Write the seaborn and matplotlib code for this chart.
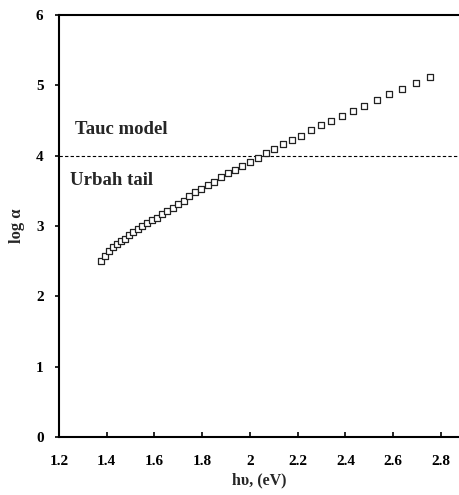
import matplotlib
matplotlib.use("Agg")
import matplotlib.pyplot as plt
import seaborn as sns
import pandas as pd

photon_energy = [1.378, 1.393, 1.409, 1.425, 1.442, 1.459, 1.476, 1.494, 1.512, 1.531,
                 1.550, 1.570, 1.590, 1.610, 1.632, 1.653, 1.676, 1.699, 1.722, 1.746,
                 1.771, 1.797, 1.824, 1.851, 1.879, 1.908, 1.938, 1.968, 2.000, 2.033,
                 2.067, 2.102, 2.138, 2.175, 2.214, 2.255, 2.296, 2.340, 2.385, 2.431,
                 2.480, 2.531, 2.583, 2.638, 2.696, 2.756]
log_alpha = [2.50, 2.57, 2.64, 2.70, 2.75, 2.79, 2.82, 2.87, 2.91, 2.95,
             3.00, 3.04, 3.08, 3.12, 3.17, 3.21, 3.26, 3.31, 3.36, 3.42,
             3.48, 3.53, 3.58, 3.63, 3.69, 3.75, 3.80, 3.85, 3.91, 3.97,
             4.04, 4.10, 4.16, 4.22, 4.28, 4.36, 4.43, 4.49, 4.56, 4.64,
             4.71, 4.79, 4.87, 4.94, 5.03, 5.11]
x_ticks = [1.2, 1.4, 1.6, 1.8, 2.0, 2.2, 2.4, 2.6, 2.8]
x_tick_labels = ["1.2", "1.4", "1.6", "1.8", "2", "2.2", "2.4", "2.6", "2.8"]
y_ticks = [0, 1, 2, 3, 4, 5, 6]
boundary_level = 4.0
region_labels = ["Tauc model", "Urbah tail"]

sns.set_style("white")
plt.rcParams["font.family"] = ["Liberation Serif", "DejaVu Serif"]
plt.rcParams["font.weight"] = "bold"

df = pd.DataFrame({"hv": photon_energy, "loga": log_alpha})

fig = plt.figure(figsize=(4.6, 4.95), dpi=100)
ax = fig.add_axes([0.128, 0.117, 0.872, 0.853])

sns.scatterplot(data=df, x="hv", y="loga", ax=ax, marker="s", s=20,
                facecolor="white", edgecolor="#222222", linewidth=0.9, zorder=3)
ax.axhline(boundary_level, color="black", linewidth=0.8, linestyle=(0, (3, 2)), zorder=2)

ax.set_xlim(1.2, 2.88)
ax.set_ylim(0, 6)
ax.set_xticks(x_ticks)
ax.set_xticklabels(x_tick_labels)
ax.set_yticks(y_ticks)

for side in ["left", "bottom", "top"]:
    ax.spines[side].set_visible(True)
    ax.spines[side].set_color("black")
    ax.spines[side].set_linewidth(1.5)
ax.spines["right"].set_visible(False)

ax.tick_params(axis="x", direction="in", length=3.5, width=1.2, pad=13,
               labelsize=11, bottom=True, top=False, colors="black")
ax.tick_params(axis="y", direction="out", length=3, width=1.2, pad=8,
               labelsize=11, left=True, right=False, colors="black")
for lab in ax.get_xticklabels() + ax.get_yticklabels():
    lab.set_fontweight("bold")

ax.set_xlabel("h\u03c5, (eV)", fontsize=11.5, fontweight="bold", labelpad=3)
ax.set_ylabel("log \u03b1", fontsize=12, fontweight="bold", labelpad=8)

ax.text(1.268, 4.37, region_labels[0], fontsize=13.5, fontweight="bold", va="center", ha="left")
ax.text(1.247, 3.65, region_labels[1], fontsize=13.5, fontweight="bold", va="center", ha="left")

fig.savefig("out.png", dpi=100)
